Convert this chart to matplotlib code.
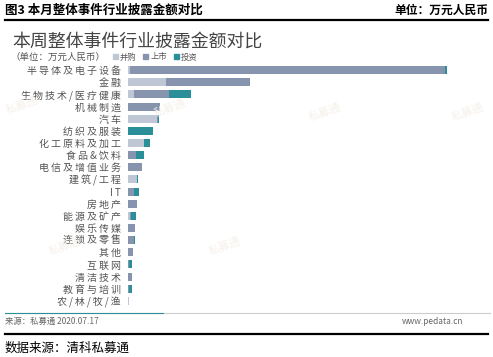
import matplotlib.pyplot as plt
from matplotlib.lines import Line2D
from matplotlib.patches import Patch

plt.rcParams['font.family'] = ['Noto Sans CJK SC', 'DejaVu Sans']

# industries, top to bottom
industries = ['半导体及电子设备', '金融', '生物技术/医疗健康', '机械制造', '汽车',
              '纺织及服装', '化工原料及加工', '食品&饮料', '电信及增值业务', '建筑/工程',
              'IT', '房地产', '能源及矿产', '娱乐传媒', '连锁及零售',
              '其他', '互联网', '清洁技术', '教育与培训', '农/林/牧/渔']

# amounts (万元人民币)
merger = [15, 380, 57, 0, 290, 0, 160, 0, 0, 90,
          0, 0, 20, 0, 0, 0, 0, 0, 0, 13]
ipo = [3150, 840, 350, 317, 10, 0, 0, 77, 137, 0,
       60, 90, 13, 73, 60, 47, 10, 37, 10, 0]
invest = [20, 0, 220, 0, 7, 250, 63, 83, 0, 13,
          47, 0, 50, 0, 10, 0, 33, 0, 27, 0]

c_merger = '#bfc7d4'
c_ipo = '#8794ae'
c_invest = '#2a8f98'

W, H = 493, 357
fig = plt.figure(figsize=(W / 100, H / 100), dpi=100)

def fx(px):
    return px / W

def fy(py):
    return 1 - py / H

def spaced(s):
    # the source image uses wide letter spacing
    return '\u2009'.join(s)

ax = fig.add_axes([fx(128), fy(307), fx(470) - fx(128), fy(64) - fy(307)])
y = list(range(len(industries)))
left2 = [a for a in merger]
left3 = [a + b for a, b in zip(merger, ipo)]
ax.barh(y, merger, height=0.66, color=c_merger, label='并购')
ax.barh(y, ipo, left=left2, height=0.66, color=c_ipo, label='上市')
ax.barh(y, invest, left=left3, height=0.66, color=c_invest, label='投资')
ax.set_ylim(len(industries) - 0.5, -0.5)
ax.set_xlim(0, 3420)
ax.set_yticks(y)
ax.set_yticklabels([spaced(s) for s in industries], fontsize=7.2, color='#555555')
ax.tick_params(axis='y', length=0, pad=5)
ax.set_xticks([])
for s in ax.spines.values():
    s.set_visible(False)

# faint watermarks
for wx, wy in [(22, 105), (170, 108), (325, 112), (468, 112), (65, 246), (225, 246)]:
    fig.text(fx(wx), fy(wy), '私募通', fontsize=8, color='#f6f0ea', rotation=20,
             ha='center', va='center', zorder=0)

# header
fig.text(fx(5), fy(10), '图3 本月整体事件行业披露金额对比', fontsize=9,
         fontweight='bold', ha='left', va='center')
fig.text(fx(488), fy(10), '单位：万元人民币', fontsize=8.5,
         fontweight='bold', ha='right', va='center')
fig.add_artist(Line2D([fx(5), fx(488)], [fy(20), fy(20)], color='black', lw=1.6))

fig.text(fx(12), fy(42), '本周整体事件行业披露金额对比', fontsize=12.9,
         color='#444444', ha='left', va='center')
fig.text(fx(10), fy(57), '（单位：万元人民币）', fontsize=6.8,
         color='#555555', ha='left', va='center')
handles = [Patch(color=c_merger), Patch(color=c_ipo), Patch(color=c_invest)]
fig.legend(handles, ['并购', '上市', '投资'], loc='center left',
           bbox_to_anchor=(fx(113), fy(57)), ncol=3, frameon=False,
           borderaxespad=0, borderpad=0,
           fontsize=6, handlelength=0.6, handleheight=0.6,
           handletextpad=0.25, columnspacing=0.77, labelcolor='#555555')

# footer
fig.add_artist(Line2D([fx(5), fx(490)], [fy(313), fy(313)], color='#cccccc', lw=0.8))
fig.add_artist(Line2D([fx(5), fx(163)], [fy(313), fy(313)], color='#2a8f98', lw=0.8))
fig.text(fx(5), fy(321), '来源：私募通 2020.07.17', fontsize=6,
         color='#666666', ha='left', va='center')
fig.text(fx(463), fy(321), 'www.pedata.cn', fontsize=6,
         color='#666666', ha='right', va='center')
fig.add_artist(Line2D([fx(5), fx(488)], [fy(334), fy(334)], color='black', lw=1.6))
fig.text(fx(5), fy(348), '数据来源：清科私募通', fontsize=9,
         color='black', ha='left', va='center')

fig.savefig('out.png', dpi=100)
